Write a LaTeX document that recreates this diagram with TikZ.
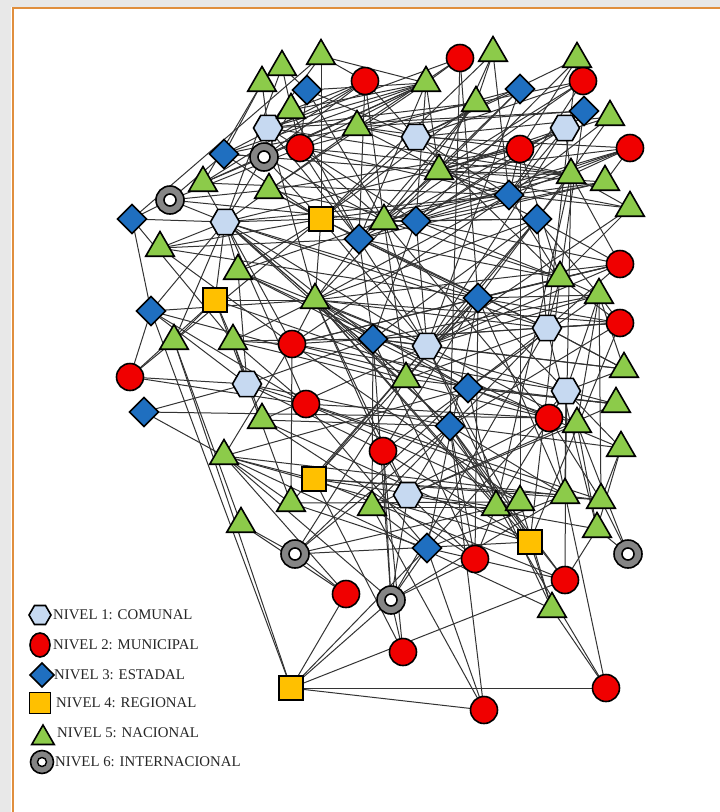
\documentclass[tikz,border=0pt]{standalone}
\usepackage{fontspec}
\setmainfont{Liberation Serif}
\usetikzlibrary{shapes.geometric,backgrounds}
\definecolor{hexc}{HTML}{C6D9F1}
\definecolor{redc}{HTML}{F00000}
\definecolor{bluec}{HTML}{1F6FC0}
\definecolor{sqc}{HTML}{FFC000}
\definecolor{triC}{HTML}{8CCB4A}
\definecolor{ringc}{HTML}{858585}
\definecolor{framec}{HTML}{E08F3E}
\definecolor{bandc}{HTML}{E8E8E8}
\tikzset{
 base/.style={draw=black, line width=1.6pt, inner sep=0pt, outer sep=0pt},
 hexn/.style={base, regular polygon, regular polygon sides=6, minimum size=29pt, fill=hexc},
 redn/.style={base, circle, minimum size=27pt, fill=redc},
 dian/.style={base, diamond, minimum size=29pt, fill=bluec},
 sqn/.style={base, rectangle, minimum size=24pt, fill=sqc},
 trin/.style={base, regular polygon, regular polygon sides=3, minimum size=33pt, fill=triC, yshift=-3pt},
 ringn/.style={base, circle, minimum size=28pt, fill=ringc, path picture={\draw[fill=white, line width=1.6pt] (path picture bounding box.center) circle (6pt);}},
 edge/.style={draw=black!80, line width=1pt},
 legtext/.style={anchor=west, font=\fontsize{14.8}{16}\selectfont, inner sep=0pt, text=black!85}
}
\begin{document}
\begin{tikzpicture}[x=1pt,y=-1pt]
\useasboundingbox (0,0) rectangle (720,812);
\begin{pgfonlayer}{background}
\fill[white] (0,0) rectangle (720,812);
\end{pgfonlayer}
\fill[bandc] (0,0) rectangle (720,7);
\fill[bandc] (0,0) rectangle (11,812);
\draw[framec, line width=2pt] (13,812) -- (13,8) -- (720,8);
% Nivel 1
\node[hexn] (h1) at (268,128) {};
\node[hexn] (h2) at (416,137) {};
\node[hexn] (h3) at (565,128) {};
\node[hexn] (h4) at (225,222) {};
\node[hexn] (h5) at (547,328) {};
\node[hexn] (h6) at (427,346) {};
\node[hexn] (h7) at (247,384) {};
\node[hexn] (h8) at (566,391) {};
\node[hexn] (h9) at (408,495) {};
% Nivel 2
\node[redn] (r1) at (460,58) {};
\node[redn] (r2) at (365,81) {};
\node[redn] (r3) at (583,81) {};
\node[redn] (r4) at (300,148) {};
\node[redn] (r5) at (520,149) {};
\node[redn] (r6) at (630,148) {};
\node[redn] (r7) at (620,264) {};
\node[redn] (r8) at (620,323) {};
\node[redn] (r9) at (292,344) {};
\node[redn] (r10) at (130,377) {};
\node[redn] (r11) at (306,404) {};
\node[redn] (r12) at (549,418) {};
\node[redn] (r13) at (383,451) {};
\node[redn] (r14) at (475,559) {};
\node[redn] (r15) at (565,580) {};
\node[redn] (r16) at (346,594) {};
\node[redn] (r17) at (403,652) {};
\node[redn] (r18) at (606,688) {};
\node[redn] (r19) at (484,710) {};
% Nivel 3
\node[dian] (d1) at (307,90) {};
\node[dian] (d2) at (520,89) {};
\node[dian] (d3) at (584,111) {};
\node[dian] (d4) at (224,154) {};
\node[dian] (d5) at (132,219) {};
\node[dian] (d6) at (509,195) {};
\node[dian] (d7) at (416,221) {};
\node[dian] (d8) at (537,219) {};
\node[dian] (d9) at (359,239) {};
\node[dian] (d10) at (478,298) {};
\node[dian] (d11) at (151,311) {};
\node[dian] (d12) at (373,339) {};
\node[dian] (d13) at (468,388) {};
\node[dian] (d14) at (144,412) {};
\node[dian] (d15) at (450,426) {};
\node[dian] (d16) at (427,548) {};
% Nivel 4
\node[sqn] (s1) at (321,219) {};
\node[sqn] (s2) at (215,300) {};
\node[sqn] (s3) at (314,479) {};
\node[sqn] (s4) at (530,542) {};
\node[sqn] (s5) at (291,688) {};
% Nivel 5
\node[trin] (t1) at (321,53) {};
\node[trin] (t2) at (493,50) {};
\node[trin] (t3) at (577,56) {};
\node[trin] (t4) at (282,64) {};
\node[trin] (t5) at (262,80) {};
\node[trin] (t6) at (426,80) {};
\node[trin] (t7) at (291,107) {};
\node[trin] (t8) at (476,100) {};
\node[trin] (t9) at (357,124) {};
\node[trin] (t10) at (610,114) {};
\node[trin] (t11) at (439,168) {};
\node[trin] (t12) at (571,172) {};
\node[trin] (t13) at (605,179) {};
\node[trin] (t14) at (203,180) {};
\node[trin] (t15) at (269,187) {};
\node[trin] (t16) at (630,205) {};
\node[trin] (t17) at (384,218) {};
\node[trin] (t18) at (160,245) {};
\node[trin] (t19) at (238,268) {};
\node[trin] (t20) at (560,275) {};
\node[trin] (t21) at (599,292) {};
\node[trin] (t22) at (315,297) {};
\node[trin] (t23) at (174,338) {};
\node[trin] (t24) at (233,338) {};
\node[trin] (t25) at (624,366) {};
\node[trin] (t26) at (406,376) {};
\node[trin] (t27) at (616,401) {};
\node[trin] (t28) at (262,417) {};
\node[trin] (t29) at (577,421) {};
\node[trin] (t30) at (621,445) {};
\node[trin] (t31) at (224,453) {};
\node[trin] (t32) at (291,500) {};
\node[trin] (t33) at (372,504) {};
\node[trin] (t34) at (496,504) {};
\node[trin] (t35) at (520,499) {};
\node[trin] (t36) at (565,492) {};
\node[trin] (t37) at (601,497) {};
\node[trin] (t38) at (597,526) {};
\node[trin] (t39) at (241,521) {};
\node[trin] (t40) at (552,606) {};
% Nivel 6
\node[ringn] (g1) at (264,157) {};
\node[ringn] (g2) at (170,200) {};
\node[ringn] (g3) at (295,554) {};
\node[ringn] (g4) at (391,600) {};
\node[ringn] (g5) at (628,554) {};
% edges
\begin{pgfonlayer}{background}
\foreach \a/\b in {t1/t6,t1/d5,t1/h1,t1/s1,t1/r2,t4/h4,t4/r4,t4/d1,t5/h1,t5/d4,t5/t14,d1/t6,d1/r4,d1/t17,d1/h2,t7/r2,t7/h4,t7/d9,r2/d4,r2/g1,r2/t14,r2/t17,r2/d9,r2/h2,t6/h1,t6/g1,t6/t14,t6/t7,t6/t15,t6/r4,t6/d7,t6/t11,t6/d9,t6/d4,r1/t6,r1/d10,r1/h1,r1/d15,r1/t9,t2/d6,t2/t8,t2/s1,t2/t11,t3/r5,t3/d7,t3/h2,t3/h5,r3/h2,r3/t9,r3/t11,r3/d6,d2/t11,d2/h6,d2/t17,d2/r4,t8/t17,t8/d9,t8/h1,t8/s1,t9/h4,t9/d4,t9/r5,t9/d8,t9/t12,h2/r6,h2/d6,h2/t20,h2/d2,h2/s1,h3/r5,h3/d7,h3/t11,h3/d6,h3/t12,h3/h6,d3/h1,d3/t9,d3/t20,t10/d8,t10/h2,t10/d6,r6/t11,r6/t12,r6/d6,r6/t13,r6/t17,r6/d9,r5/d9,r5/t15,r5/d6,r5/t20,r5/t35,r5/h4,r4/t12,r4/d6,r4/t17,r4/d7,r4/h6,h1/d9,h1/t22,h1/g1,h1/r4}
  \draw[edge] (\a) -- (\b);
\foreach \a/\b in {g2/h4,g2/r4,g2/t15,g2/d5,g2/t17,d5/h4,d5/d11,d5/t24,d4/s1,d4/t11,d4/g2,g1/s1,g1/t17,g1/d4,t14/h4,t14/d6,t14/g1,t15/d7,t15/d9,t15/s1,h4/s1,h4/t22,h4/r9,h4/d12,h4/t26,h4/h6,h4/d15,h4/r11,h4/d10,h4/t18,h4/s2,h4/d11,h4/t19,h4/h5,s1/t22,s1/h6,s1/d6,s1/h5,s1/d7,s1/t19,t17/d7,t17/h6,t17/r12,t17/t26,t17/d8,t17/t20,d9/t20,d9/d10,d9/h5,d9/t22,d9/d12,d7/t20,d7/r7,d7/d12,d7/h6,d7/d8,d7/t13,t11/d6,t11/t12,t11/d9,t11/t22,t11/t16,t18/d9,t18/d10,t18/r9,t18/s1,t19/h6,t19/d13,t19/r12,t19/h7,t19/t17,s2/t22,s2/d13,s2/r10,s2/t24,d11/r11,d11/t26,d11/s5,d11/t22,d11/h7}
  \draw[edge] (\a) -- (\b);
\foreach \a/\b in {t22/r9,t22/t26,t22/h6,t22/d13,t22/d15,t22/r13,t22/h9,t22/t34,t22/s4,t22/r8,t22/d8,t22/r7,t22/d12,t22/h5,t23/s5,t23/t39,t23/s1,t23/r10,t23/s2,t23/h4,r10/d11,r10/h7,r10/r11,t24/r12,t24/t22,t24/r9,t24/d12,r9/t35,r9/d13,r9/h8,r9/r8,r9/t20,r9/d6,r9/t31,d12/t21,d12/h8,d12/t33,d12/r14,d12/g4,d12/h6,h6/d10,h6/t20,h6/t29,h6/s4,h6/t32,h6/t21,h6/d8,t26/d8,t26/h5,t26/r15,t26/g3,t26/d10,d10/t21,d10/t36,d10/s3,d10/r13,d10/h8,d10/d8,d10/r7,h5/r8,h5/t25,h5/t33,h5/g4,h5/t38,h5/r7,h5/t20,h5/d13,d13/t27,d13/r12,d13/t34,d13/g3,d13/t21,d14/r12,d14/h7,d14/t31,h7/d12,h7/d15,h7/t32,h7/r13,h7/t37,h7/t24,h7/s2,r11/r12,r11/t35,r11/t36,r11/d16,r11/t24,t28/r14,t28/d15,t28/s4,t28/h6,t28/t24,d15/r8,d15/r14,d15/g3,d15/t36,d15/r15,d15/r18,h8/t27,h8/t36,h8/t34,h8/r12,h8/d16,h8/t25,r12/t30,r12/t37,r12/t33,t29/t38,t29/h9,t29/d13,t29/t21,t30/t38,t30/t37,t30/h8,t30/d15}
  \draw[edge] (\a) -- (\b);
\foreach \a/\b in {r13/h9,r13/r17,r13/g4,r13/s4,r13/d13,t31/s3,t31/s4,t31/t40,t31/g4,t31/r16,t31/t32,t31/t37,t31/d13,s3/t36,s3/t37,s3/t34,s3/r15,s3/r17,s3/h6,h9/r14,h9/g4,h9/t38,h9/d15,t32/t35,t32/d16,t32/r9,t33/t34,t33/d16,t33/r19,t34/r14,t34/t12,t35/t40,t35/g3,t36/d16,t36/t12,t37/g5,t37/t21,t38/r15,t38/g5,t39/g3,t39/r16,g3/s4,g3/r16,d16/r19,d16/g4,d16/r15,d16/d10,r14/g4,r14/d10,r15/s5,r15/h8,r16/s5,g4/s5,g4/r17,g4/t36,s5/r18,s5/r19,s5/d16,r18/t40,r18/r12,r19/d15,t40/s4,t40/h6,g5/t29,s4/r8,s4/t20,s4/d15}
  \draw[edge] (\a) -- (\b);
\foreach \a/\b in {r7/d8,r7/t20,r7/h6,r7/t12,r7/r9,r8/t20,r8/t21,r8/d10,r8/d12,t25/h5,t25/d12,t25/t21,t25/h6,t27/t26,t27/d13,t27/h9,t16/t20,t16/t12,t16/d6,t16/h6,t12/d8,t12/h1,t12/t17,t13/d6,t13/t11,t13/d9,t21/t20,t21/h8,d8/t21,d8/h5,d8/d12,d6/t20,d6/d7,d6/h4,d6/t22,d3/d7,r3/t17,t10/t11}
  \draw[edge] (\a) -- (\b);
\end{pgfonlayer}
% legend
\node[hexn, minimum size=22pt] (leg1) at (40,615) {};
\node[redn, minimum width=20pt, minimum height=24pt, ellipse] (leg2) at (40,645) {};
\node[dian, minimum size=24pt] (leg3) at (42,675) {};
\node[sqn, minimum size=21pt] (leg4) at (40,703) {};
\node[trin, minimum size=26pt] (leg5) at (43,735) {};
\node[ringn, minimum size=23pt, path picture={\draw[fill=white, line width=1.4pt] (path picture bounding box.center) circle (4.5pt);}] (leg6) at (42,762) {};
\node[legtext] (lt1) at (53,615) {NIVEL 1: COMUNAL};
\node[legtext] (lt2) at (53,645) {NIVEL 2: MUNICIPAL};
\node[legtext] (lt3) at (54,675) {NIVEL 3: ESTADAL};
\node[legtext] (lt4) at (56,703) {NIVEL 4: REGIONAL};
\node[legtext] (lt5) at (57,733) {NIVEL 5: NACIONAL};
\node[legtext] (lt6) at (55,762) {NIVEL 6: INTERNACIONAL};
\end{tikzpicture}
\end{document}
